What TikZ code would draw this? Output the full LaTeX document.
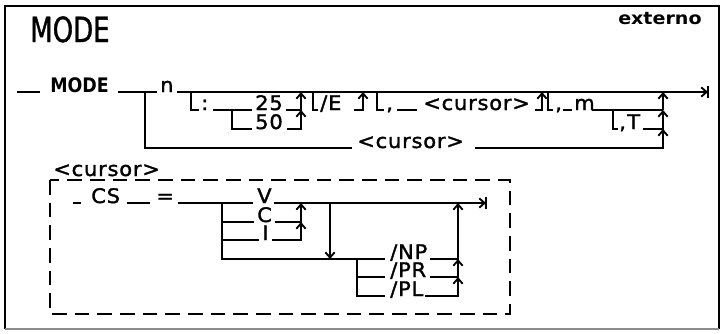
\documentclass[tikz,border=0pt]{standalone}
\usepackage{fontspec}
\usetikzlibrary{arrows.meta}
\newfontfamily\dg[FakeStretch=1.05,LetterSpace=4,FakeBold=1.6]{DejaVu Sans}
\newfontfamily\dgb[FakeStretch=0.87]{DejaVu Sans}
\newfontfamily\dgx[FakeStretch=1.1]{DejaVu Sans}
\newfontfamily\ttl[FakeStretch=0.75,FakeBold=1]{DejaVu Sans}
\begin{document}
\begin{tikzpicture}[x=0.75pt,y=-0.75pt,
  ln/.style={line width=1.4pt},
  arr/.style={ln,-{Straight Barb[length=4pt,width=7pt]}},
  t/.style={inner sep=0pt,anchor=base west,font=\dg\fontsize{15pt}{17pt}\selectfont},
  tb/.style={inner sep=0pt,anchor=base west,font=\dgb\bfseries\fontsize{15pt}{17pt}\selectfont},
  dbox/.style={line width=1.4pt,dash pattern=on 11pt off 6pt}]
\useasboundingbox (0,0) rectangle (725,333);
% frame
\coordinate (f1) at (5,6); \coordinate (f2) at (719,6);
\coordinate (f3) at (719,329); \coordinate (f4) at (5,329);
\draw[ln] (f4) -- (f1) -- (f2) -- (f3);
\draw[line width=1pt,black!45] (f4) -- (f3);
\node[inner sep=0pt,anchor=base west,font=\ttl\fontsize{26pt}{28pt}\selectfont] (title) at (30,42) {MODE};
\node[inner sep=0pt,anchor=base west,font=\dgx\bfseries\fontsize{13pt}{15pt}\selectfont] (ext) at (618,24) {externo};
% ---------- main syntax ----------
\coordinate (a0) at (17,92); \coordinate (a1) at (40,92);
\node[tb] (mode) at (50,92) {MODE};
\coordinate (a2) at (118,92); \coordinate (alt) at (145,92); \coordinate (a3) at (157,92);
\node[t] (n) at (160,92) {n};
\coordinate (m0) at (177,92);
\coordinate (k1) at (191,92); \coordinate (k2) at (301,92);
\coordinate (k3) at (313,92); \coordinate (k4) at (363,92);
\coordinate (k5) at (377,92); \coordinate (k6) at (542,92);
\coordinate (k7) at (548,92); \coordinate (k8) at (663,92);
\coordinate (endp) at (708,92);
\coordinate (endt) at (708,86); \coordinate (endb) at (708,98);
\draw[ln] (a0) -- (a1);
\draw[ln] (a2) -- (a3);
\draw[arr] (m0) -- (endp);
\draw[ln] (endt) -- (endb);
% : 25 / 50
\coordinate (r2a) at (199,110);
\draw[ln] (k1) |- (r2a);
\node[t] (colon) at (201,110) {:};
\coordinate (r2b) at (213,110); \coordinate (r2c) at (252,110);
\draw[ln] (r2b) -- (r2c);
\node[t] (n25) at (255,110) {25};
\coordinate (r2d) at (286,110); \coordinate (j25) at (301,110);
\draw[arr] (r2d) -| (k2);
\coordinate (l50) at (232,110); \coordinate (r3c) at (252,129);
\draw[ln] (l50) |- (r3c);
\node[t] (n50) at (255,129) {50};
\coordinate (r3d) at (287,129);
\draw[arr] (r3d) -| (j25);
% /E
\coordinate (e1) at (318,110);
\draw[ln] (k3) |- (e1);
\node[t] (nE) at (320,110) {/E};
\coordinate (e2) at (354,110);
\draw[arr] (e2) -| (k4);
% , <cursor>
\coordinate (c1) at (384,110);
\draw[ln] (k5) |- (c1);
\node[t] (comma1) at (386,110) {,};
\coordinate (c2) at (397,110); \coordinate (c3) at (417,110);
\draw[ln] (c2) -- (c3);
\node[t] (cur1) at (423,110) {<cursor>};
\coordinate (c4) at (535,110);
\draw[arr] (c4) -| (k6);
% , m
\coordinate (mm1) at (553,110);
\draw[ln] (k7) |- (mm1);
\node[t] (comma2) at (555,110) {,};
\coordinate (mm2) at (563,110); \coordinate (mm3) at (572,110);
\draw[ln] (mm2) -- (mm3);
\node[t] (nm) at (574,110) {m};
\coordinate (mm4) at (592,110); \coordinate (jm) at (663,110);
\draw[ln] (mm4) -- (jm);
\draw[arr] (jm) -- (k8);
% , T
\coordinate (tL) at (613,110); \coordinate (t1) at (618,129);
\draw[ln] (tL) |- (t1);
\node[t] (comma3) at (619,129) {,};
\node[t] (nT) at (627,129) {T};
\coordinate (t2) at (643,129); \coordinate (jt) at (663,129);
\draw[arr] (t2) -| (jm);
% alternative <cursor>
\coordinate (alt2) at (352,148);
\draw[ln] (alt) |- (alt2);
\node[t] (cur2) at (357,148) {<cursor>};
\coordinate (alt3) at (475,148);
\draw[arr] (alt3) -| (jt);
% ---------- <cursor> box ----------
\node[t] (lab) at (53,176) {<cursor>};
\coordinate (bx1) at (50,180); \coordinate (bx2) at (510,314);
\draw[dbox] (bx1) rectangle (bx2);
\coordinate (q0) at (73,203); \coordinate (q1) at (81,203);
\draw[ln] (q0) -- (q1);
\node[t] (cs) at (91,203) {CS};
\coordinate (q2) at (127,203); \coordinate (q3) at (150,203);
\draw[ln] (q2) -- (q3);
\node[t] (eq) at (156,203) {=};
\coordinate (q4) at (178,203); \coordinate (q5) at (253,203);
\draw[ln] (q4) -- (q5);
\node[t] (nV) at (257,203) {V};
\coordinate (q6) at (274,203); \coordinate (qend) at (486,203);
\coordinate (qbt) at (486,197); \coordinate (qbb) at (486,209);
\draw[arr] (q6) -- (qend);
\draw[ln] (qbt) -- (qbb);
% V / C / I
\coordinate (br) at (222,203); \coordinate (np0) at (385,259);
\draw[ln] (br) |- (np0);
\coordinate (cL) at (222,222); \coordinate (cR) at (254,222);
\draw[ln] (cL) -- (cR);
\node[t] (nC) at (257,222) {C};
\coordinate (c5) at (275,222); \coordinate (jV) at (301,203); \coordinate (jC) at (301,222);
\draw[arr] (c5) -| (jV);
\coordinate (iL) at (222,240); \coordinate (iR) at (259,240);
\draw[ln] (iL) -- (iR);
\node[t] (nI) at (262,240) {I};
\coordinate (i5) at (272,240);
\draw[arr] (i5) -| (jC);
% down arrow
\coordinate (dn1) at (330,203); \coordinate (dn2) at (330,259);
\draw[arr] (dn1) -- (dn2);
% /NP /PR /PL
\node[t] (nNP) at (390,259) {/NP};
\coordinate (np1) at (430,259); \coordinate (jNP) at (458,259); \coordinate (jtop) at (458,203);
\draw[arr] (np1) -| (jtop);
\coordinate (bNP) at (357,259); \coordinate (pl0) at (385,296);
\draw[ln] (bNP) |- (pl0);
\coordinate (prL) at (357,277); \coordinate (pr0) at (385,277);
\draw[ln] (prL) -- (pr0);
\node[t] (nPR) at (390,277) {/PR};
\coordinate (pr1) at (430,277); \coordinate (jPR) at (458,277);
\draw[arr] (pr1) -| (jNP);
\node[t] (nPL) at (390,296) {/PL};
\coordinate (pl1) at (425,296);
\draw[arr] (pl1) -| (jPR);
\end{tikzpicture}
\end{document}
